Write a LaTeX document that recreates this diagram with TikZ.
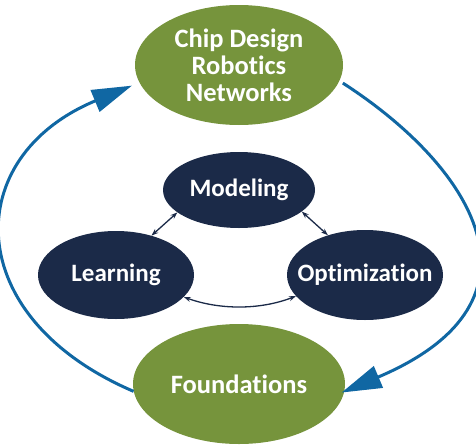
\documentclass[tikz,border=0pt]{standalone}
\usepackage{fontspec}
\setmainfont{Carlito}[Ligatures=NoCommon]
\usetikzlibrary{arrows.meta,shapes.geometric}
\definecolor{olivegreen}{RGB}{118,148,60}
\definecolor{navyblue}{RGB}{27,42,72}
\definecolor{cycleblue}{RGB}{16,103,163}
\tikzset{
 greenbox/.style={ellipse,fill=olivegreen,text=white,align=center,inner sep=0pt,
   font=\bfseries\fontsize{26.5}{27}\selectfont,minimum width=208pt,minimum height=120pt},
 navybox/.style={ellipse,fill=navyblue,text=white,inner sep=0pt,
   font=\bfseries\fontsize{25}{27}\selectfont,minimum width=156pt,minimum height=88pt},
 bigarrow/.style={draw=cycleblue,line width=3pt,-{Triangle[length=40pt,width=23pt]}},
 smallarrow/.style={draw=navyblue,line width=1.3pt,{Stealth[length=7pt,width=5pt]}-{Stealth[length=7pt,width=5pt]}}
}
\begin{document}
\begin{tikzpicture}[x=1pt,y=-1pt]
\useasboundingbox (0,0) rectangle (476,447);
% green ellipses, top and bottom
\node[greenbox] (apps) at (239,65) {Chip Design\\Robotics\\Networks};
\node[greenbox,minimum width=212pt] (found) at (239,384) {Foundations};
% the three inner ones
\node[navybox,minimum width=152pt,minimum height=76pt] (model) at (239,190) {Modeling};
\node[navybox] (learn) at (116,275) {Learning};
\node[navybox,inner xsep=-22pt,minimum height=90pt] (optim) at (365,275) {Optimization};
% outer cycle, edit the controls to bend it
\draw[bigarrow,shorten >=8pt] (found.184) .. controls (-40,317) and (-40,157) .. (apps.190);
\draw[bigarrow,shorten <=4pt,shorten >=-3pt] (apps.-9) .. controls (470,165) and (560,300) .. (found.-4);
% inner links
\draw[smallarrow] (model.200) -- (learn.48);
\draw[smallarrow] (model.341) -- (optim.133);
\draw[smallarrow] (learn.342) .. controls (220,310) and (260,310) .. (optim.197);
\end{tikzpicture}
\end{document}
